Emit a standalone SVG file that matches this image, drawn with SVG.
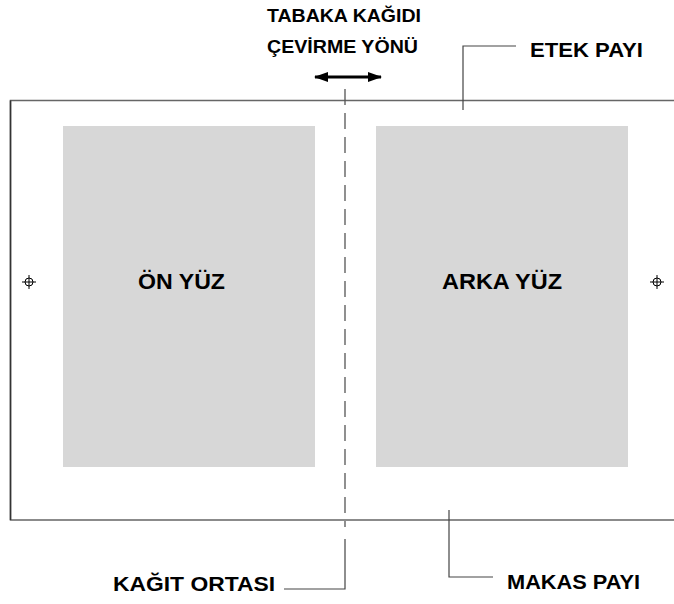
<svg xmlns="http://www.w3.org/2000/svg" width="674" height="604" viewBox="0 0 674 604">
<style>
.t{font-family:"Liberation Sans",Arial,sans-serif;font-weight:bold;fill:#000}
.ln{stroke:#666;stroke-width:1.5;fill:none}
.ld{stroke:#444;stroke-width:1.2;fill:none}
.pg{fill:#d7d7d7}
.ch{stroke:#000;stroke-width:1;fill:none}
</style>
<defs>
<marker id="ah" markerWidth="14" markerHeight="10" refX="13" refY="5" orient="auto-start-reverse" markerUnits="userSpaceOnUse">
<path d="M0,0 L14,5 L0,10 Z" fill="#000"/>
</marker>
</defs>
<rect width="674" height="604" fill="#fff"/>
<g id="sheet">
<path class="ln" d="M674,100.5 H10.5 V520 H674"/>
<path d="M10.5,100.5 V520" stroke="#333" stroke-width="1.5"/>
</g>
<g id="on-yuz">
<rect class="pg" x="63" y="126" width="252" height="341"/>
<text class="t" x="138" y="289" font-size="22" textLength="87" lengthAdjust="spacingAndGlyphs">ÖN YÜZ</text>
</g>
<g id="arka-yuz">
<rect class="pg" x="376" y="126" width="252" height="341"/>
<text class="t" x="442" y="289" font-size="22" textLength="120" lengthAdjust="spacingAndGlyphs">ARKA YÜZ</text>
</g>
<g id="crosshair-left">
<circle class="ch" cx="29" cy="282" r="4"/>
<path class="ch" d="M22,282 H36 M29,275 V289"/>
</g>
<g id="crosshair-right">
<circle class="ch" cx="657" cy="282" r="4"/>
<path class="ch" d="M650,282 H664 M657,275 V289"/>
</g>
<g id="direction">
<text class="t" x="267" y="22" font-size="18" textLength="154" lengthAdjust="spacingAndGlyphs">TABAKA KAĞIDI</text>
<text class="t" x="267" y="53" font-size="18" textLength="151" lengthAdjust="spacingAndGlyphs">ÇEVİRME YÖNÜ</text>
</g>
<g id="etek-payi">
<text class="t" x="530" y="57" font-size="20" textLength="113" lengthAdjust="spacingAndGlyphs">ETEK PAYI</text>
</g>
<g id="makas-payi">
<text class="t" x="507" y="589" font-size="21" textLength="133" lengthAdjust="spacingAndGlyphs">MAKAS PAYI</text>
</g>
<g id="kagit-ortasi">
<text class="t" x="113" y="591" font-size="21" textLength="162" lengthAdjust="spacingAndGlyphs">KAĞIT ORTASI</text>
</g>
<g id="connectors">
<path d="M345,89 V527" stroke="#555" stroke-width="1.3" stroke-dasharray="16,8" fill="none"/>
<path d="M315,77 H381" stroke="#000" stroke-width="3" marker-start="url(#ah)" marker-end="url(#ah)"/>
<path class="ld" d="M516,46 H463 V110"/>
<path class="ld" d="M449,510 V577 H493"/>
<path class="ld" d="M345,539 V589 H284"/>
</g>
</svg>
